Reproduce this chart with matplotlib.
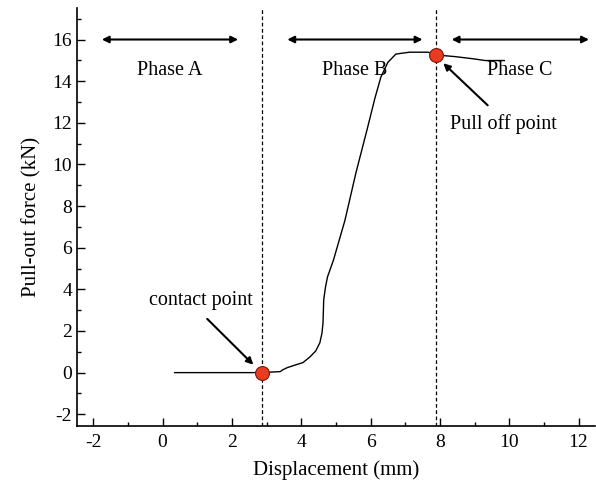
import matplotlib

matplotlib.use("Agg")
import matplotlib.pyplot as plt
from matplotlib.ticker import MultipleLocator

plt.rcParams["font.family"] = ["Liberation Serif", "DejaVu Serif"]

# pull-out curve
disp_mm = [0.35, 2.87, 3.40, 3.45, 3.60, 3.80, 4.05, 4.25, 4.42, 4.54, 4.60, 4.63,
           4.65, 4.70, 4.76, 4.93, 5.26, 5.58, 5.92, 6.13, 6.30, 6.50, 6.73, 7.12,
           7.67, 7.88, 8.43, 8.98, 9.31, 9.86]
force_kn = [0.0, 0.0, 0.05, 0.12, 0.24, 0.35, 0.48, 0.75, 1.04, 1.44, 1.9, 2.4,
            3.5, 4.1, 4.6, 5.4, 7.3, 9.6, 11.8, 13.2, 14.2, 14.9, 15.3, 15.39,
            15.39, 15.26, 15.18, 15.07, 14.99, 14.99]

contact = (2.87, 0.0)
pull_off = (7.88, 15.26)

phase_names = ["Phase A", "Phase B", "Phase C"]
phase_spans = [(-1.75, 2.18), (3.6, 7.5), (8.34, 12.3)]
phase_label_x = [0.2, 5.53, 10.3]

x_ticks = [-2, 0, 2, 4, 6, 8, 10, 12]
y_ticks = [-2, 0, 2, 4, 6, 8, 10, 12, 14, 16]

FS = 14.5

fig = plt.figure(figsize=(5.96, 4.87), dpi=100)
ax = fig.add_axes([0.129, 0.125, 0.869, 0.858])

ax.plot(disp_mm, force_kn, color="black", lw=1.0)
ax.axvline(contact[0], color="black", ls=(0, (3, 2)), lw=0.9)
ax.axvline(pull_off[0], color="black", ls=(0, (3, 2)), lw=0.9)

for pt in (contact, pull_off):
    ax.plot(*pt, "o", ms=10, mfc="#ea3a20", mec="#7a1a0a", mew=0.8, zorder=5)

for name, (x0, x1), lx in zip(phase_names, phase_spans, phase_label_x):
    ax.annotate("", xy=(x0, 16), xytext=(x1, 16),
                arrowprops=dict(arrowstyle="<|-|>", color="black", lw=1.5,
                                mutation_scale=10, shrinkA=0, shrinkB=0))
    ax.text(lx, 14.5, name, ha="center", va="center", fontsize=FS)

arrow_kw = dict(arrowstyle="-|>", color="black", lw=1.5,
                mutation_scale=10, shrinkA=0, shrinkB=0)
ax.text(1.1, 3.45, "contact point", ha="center", va="center", fontsize=FS)
ax.annotate("", xy=(2.62, 0.38), xytext=(1.29, 2.58), arrowprops=arrow_kw)
ax.text(9.83, 11.95, "Pull off point", ha="center", va="center", fontsize=FS)
ax.annotate("", xy=(8.1, 14.86), xytext=(9.38, 12.84), arrowprops=arrow_kw)

ax.set_xlim(-2.47, 12.47)
ax.set_ylim(-2.57, 17.5)
ax.set_xticks(x_ticks)
ax.set_yticks(y_ticks)
ax.set_xticklabels([str(t) for t in x_ticks])
ax.set_yticklabels([str(t) for t in y_ticks])
ax.xaxis.set_minor_locator(MultipleLocator(1))
ax.yaxis.set_minor_locator(MultipleLocator(1))
ax.tick_params(which="both", direction="in", labelsize=14)
ax.tick_params(which="major", length=6, width=1)
ax.tick_params(which="minor", length=3, width=1)
ax.tick_params(axis="x", pad=6)
ax.spines["top"].set_visible(False)
ax.spines["right"].set_visible(False)
for s in ("left", "bottom"):
    ax.spines[s].set_linewidth(1.2)

ax.set_xlabel("Displacement (mm)", fontsize=15, labelpad=6)
ax.set_ylabel("Pull-out force (kN)", fontsize=15, labelpad=8)

fig.savefig("out.png", dpi=100)
